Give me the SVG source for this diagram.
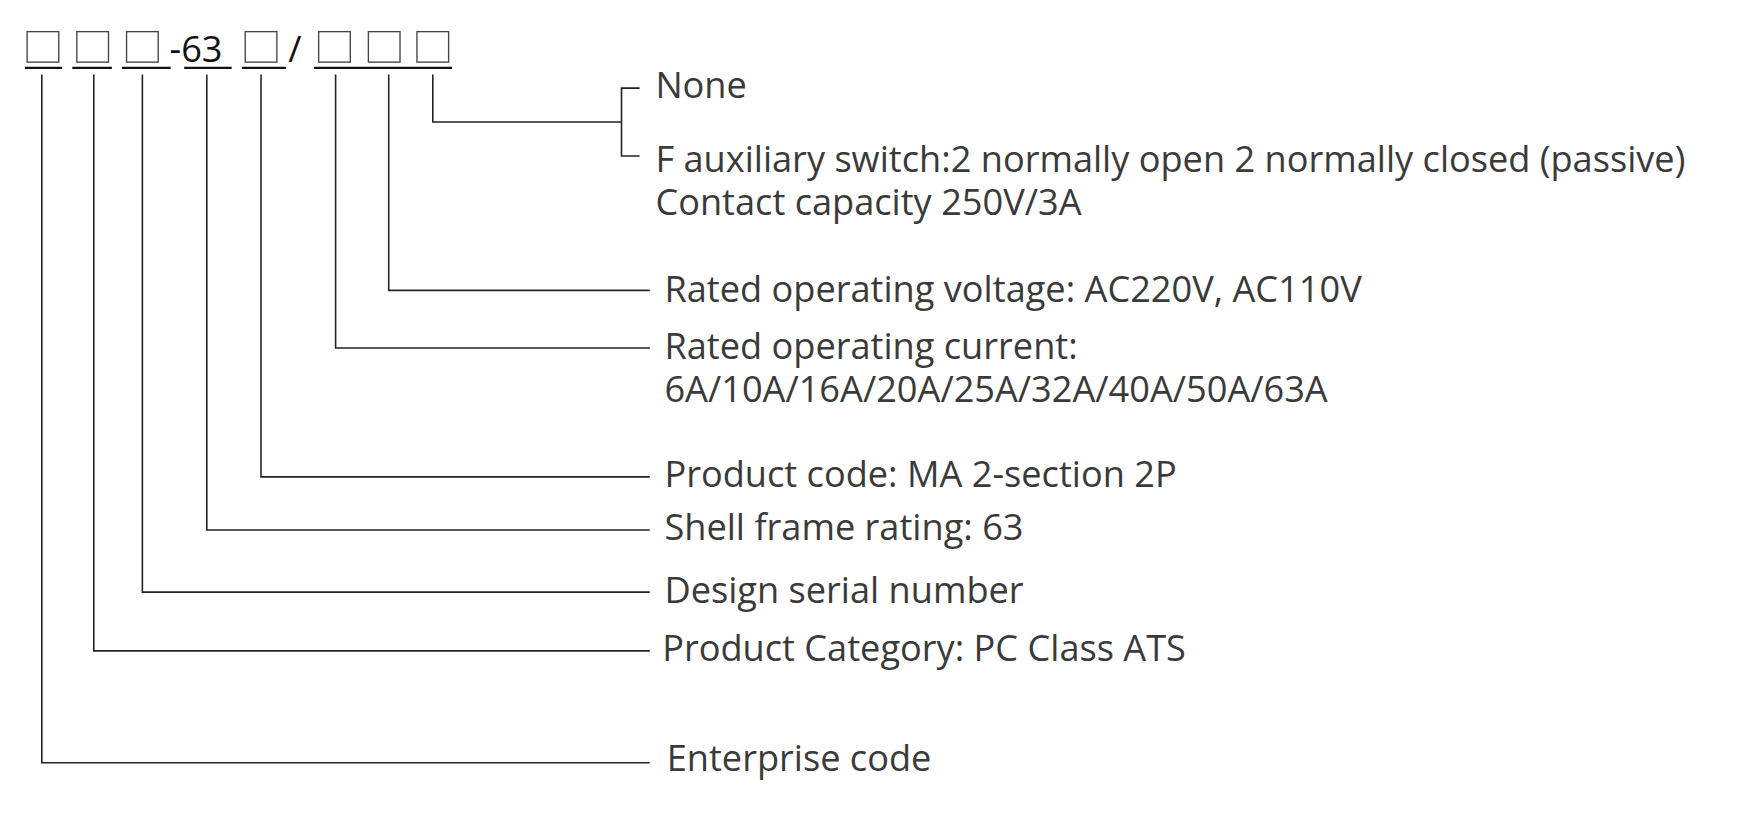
<svg xmlns="http://www.w3.org/2000/svg" width="1763" height="817" viewBox="0 0 1763 817">
<style>
.t{font-family:"Open Sans",Lato,sans-serif;font-size:32px;fill:#3a3a3a}
.h{font-family:"Open Sans",Lato,sans-serif;font-size:32px;fill:#111}
.b{fill:none;stroke:#444;stroke-width:1.2}
.u{stroke:#111;stroke-width:2}
.c{fill:none;stroke:#222;stroke-width:1.4}
</style>
<rect width="1763" height="817" fill="#fff"/>
<g transform="scale(1.13)">
<g id="code">
<rect class="b" x="24" y="28" width="28" height="27"/>
<rect class="b" x="68" y="28" width="28" height="27"/>
<rect class="b" x="112" y="28" width="28" height="27"/>
<text class="h" x="150" y="55">-63</text>
<rect class="b" x="217" y="28" width="28" height="27"/>
<text class="h" x="255" y="55">/</text>
<rect class="b" x="282" y="28" width="28" height="27"/>
<rect class="b" x="326" y="28" width="28" height="27"/>
<rect class="b" x="369" y="28" width="28" height="27"/>
<path class="u" d="M22 60H55M64 60H99M108 60H151M163 60H205M214 60H253M278 60H400"/>
</g>
<g id="connectors">
<path class="c" d="M383 66V108H550M566 78H550V138H566"/>
<path class="c" d="M344 66V257H575"/>
<path class="c" d="M297 66V308H575"/>
<path class="c" d="M231 66V422H575"/>
<path class="c" d="M183 66V469H575"/>
<path class="c" d="M126 66V524H575"/>
<path class="c" d="M83 66V576H575"/>
<path class="c" d="M37 66V675H575"/>
</g>
<g id="n-none"><text class="t" x="580" y="87">None</text></g>
<g id="n-aux"><text class="t" x="580" y="152">F auxiliary switch:2 normally open 2 normally closed (passive)</text><text class="t" x="580" y="190">Contact capacity 250V/3A</text></g>
<g id="n-volt"><text class="t" x="588" y="267">Rated operating voltage: AC220V, AC110V</text></g>
<g id="n-curr"><text class="t" x="588" y="318">Rated operating current:</text><text class="t" x="588" y="356">6A/10A/16A/20A/25A/32A/40A/50A/63A</text></g>
<g id="n-prod"><text class="t" x="588" y="431">Product code: MA 2-section 2P</text></g>
<g id="n-shell"><text class="t" x="588" y="478">Shell frame rating: 63</text></g>
<g id="n-design"><text class="t" x="588" y="534">Design serial number</text></g>
<g id="n-cat"><text class="t" x="586" y="585">Product Category: PC Class ATS</text></g>
<g id="n-ent"><text class="t" x="590" y="682">Enterprise code</text></g>
</g>
</svg>
